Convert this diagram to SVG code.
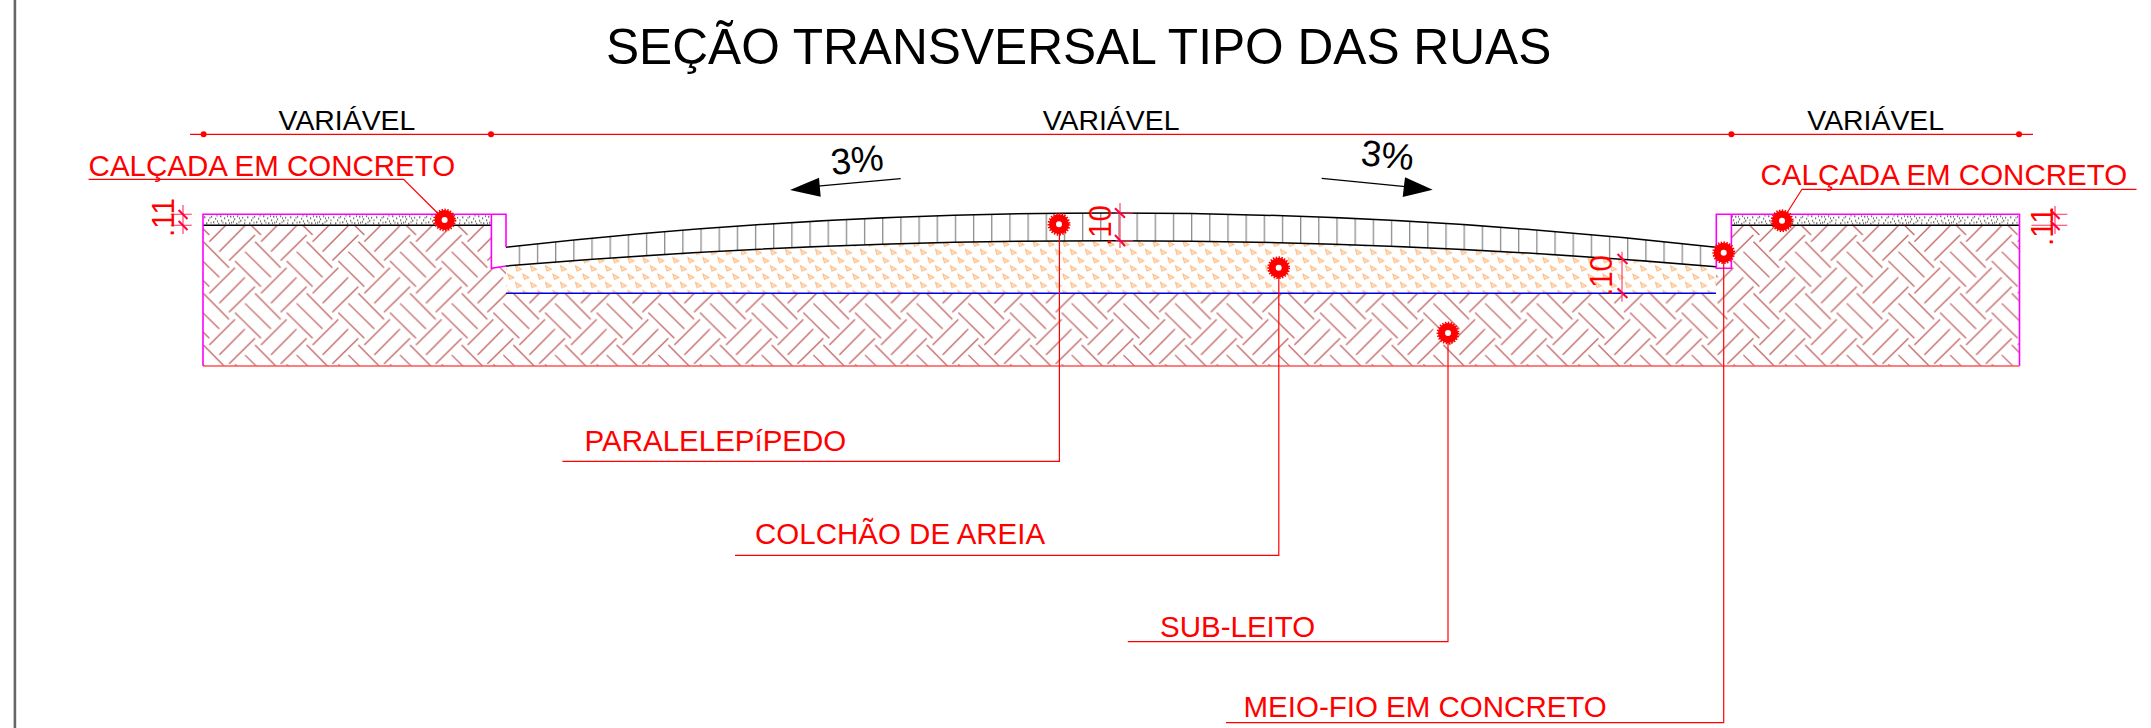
<svg xmlns="http://www.w3.org/2000/svg" width="2151" height="728" viewBox="0 0 2151 728">
<style>
text{font-family:"Liberation Sans",Arial,sans-serif}
.blk{fill:#000}
.red{fill:#ff0000}
.t29{font-size:29.5px}
.t28{font-size:28.4px}
.t35{font-size:36.5px}
.tdim{font-size:31px}
.ldr{fill:none;stroke:#ff0000;stroke-width:1.2}
.dim{fill:none;stroke:#ff3355;stroke-width:1.1}
.tick{fill:none;stroke:#ff0044;stroke-width:2}
.mag{fill:none;stroke:#ff00ff;stroke-width:1.6}
.ink{fill:none;stroke:#000;stroke-width:1.5}
</style>
<defs>
<pattern id="herr" patternUnits="userSpaceOnUse" x="190" y="225" width="51.67" height="51.67">
<path fill="none" stroke="#c46868" stroke-width="1.35" d="M45 36l26 25.7M-6.67 36l26 25.7M45 -15.67l26 25.7M-6.67 -15.67l26 25.7M3.33 26.7l26 25.6M3.33 -24.97l26 25.6M13.33 16.7l25.7 26M19.3 16.63l25.7 -25.6M19.3 68.3l25.7 -25.6M29.3 26.63l25.7 -26M-22.37 26.63l25.7 -26M39 35.63l26 -25.6M-12.67 35.63l26 -25.6"/>
</pattern>
<pattern id="sand" patternUnits="userSpaceOnUse" x="506" y="240" width="15" height="16.5">
<g fill="#fee4cc" stroke="#fcbe88" stroke-width="1.1">
<path d="M2 1.2l1.5 5.2l4.4 -1.8z"/>
<path d="M9.5 9.4l1.5 5.2l4.4 -1.8z"/>
<path d="M-5.5 9.4l1.5 5.2l4.4 -1.8z"/>
</g>
</pattern>
<pattern id="pav" patternUnits="userSpaceOnUse" x="518.7" y="200" width="18.17" height="80">
<rect x="0" y="0" width="1.3" height="80" fill="#8c8c8c"/>
</pattern>
<pattern id="conc" patternUnits="userSpaceOnUse" x="203" y="214.3" width="43" height="11">
<path fill="none" stroke="#4a4a4a" stroke-width="1.3" d="M1 3h1.4M5 6h1.2M3 9h1.4M8 2.5h1.2M10 8h1.4M12 4.5h1.2M15 9.5h1.2M17 2h1.4M18 6.5h1.2M21 4h1.2M22 9h1.4M25 6h1.2M27 2.5h1.4M28 8.5h1.2M31 5h1.2M33 9.5h1.4M34 2h1.2M37 6.5h1.4M39 3.5h1.2M41 9h1.2M6.5 3.5h1M14 7h1M24 2h1M30 7.5h1M36 4h1M41.5 6h1M7.5 8.5h1M19.5 8.5h1M26 9h1M35.5 8h1M13.5 1.5h1M30 2.5h1"/>
</pattern>
<g id="dot">
<circle r="10" fill="#ff0000"/>
<circle r="10.2" fill="none" stroke="#ff0000" stroke-width="2.4" stroke-dasharray="1.4 1.4"/>
<circle r="3" fill="#fff"/>
</g>
</defs>
<rect width="2151" height="728" fill="#fff"/>
<rect id="border" x="13.6" y="0" width="2.6" height="728" fill="#666"/>
<text id="title" class="blk" x="606" y="64" font-size="49.65">SEÇÃO TRANSVERSAL TIPO DAS RUAS</text>

<g id="section">
<path id="subgrade-fill" fill="url(#herr)" d="M203 225.3H491.4V268.3L506 266V293.3H1716V268.3H1731.4V225.3H2019.5V366H203Z"/>
<path id="sand-fill" fill="url(#sand)" d="M506 266Q808.5 240.7 1111 240.7Q1413.5 240.7 1716 266.7V293.3H506Z"/>
<path id="paver-fill" fill="url(#pav)" d="M506 247.3Q808.5 213 1111 213Q1413.5 213 1716 247.3V266.7Q1413.5 240.7 1111 240.7Q808.5 240.7 506 266Z"/>
<rect id="concrete-left" x="203" y="214.3" width="288.4" height="11" fill="url(#conc)"/>
<rect id="concrete-right" x="1731.4" y="214.3" width="288.1" height="11" fill="url(#conc)"/>
<path class="ink" d="M203 225.3H491.4M1731.4 225.3H2019.5"/>
<path class="ink" d="M506 247.3Q808.5 213 1111 213Q1413.5 213 1716 247.3"/>
<path class="ink" d="M506 266Q808.5 240.7 1111 240.7Q1413.5 240.7 1716 266.7"/>
<path fill="none" stroke="#0000e0" stroke-width="1.4" d="M506 293.3H1716"/>
<path class="mag" d="M203 366V214.3H506V247.3M491.4 214.3V268.3L506 266"/>
<path class="mag" d="M2019.5 366V214.3H1716.3V268.3H1731.4V214.3"/>
<path fill="none" stroke="#ff5555" stroke-width="1.6" d="M203 366H2019.5"/>
</g>

<g id="connectors">
<path class="ldr" d="M190 134.3H2033"/>
<path class="ldr" d="M88.6 179.3H403.6L444.6 220"/>
<path class="ldr" d="M2136.5 189.3H1802L1782 220.7"/>
<path class="ldr" d="M1059.4 224.3V461.3H562.4"/>
<path class="ldr" d="M1278.8 267.7V555.3H735"/>
<path class="ldr" d="M1448 333V641.7H1127.8"/>
<path class="ldr" d="M1723.7 252.7V722.7H1226"/>
<path fill="none" stroke="#000" stroke-width="1.2" d="M900.7 178.7L815 186.4M1321.7 178.3L1408 186.8"/>
<path class="blk" d="M790 190L819 177.7L820.7 196.7Z"/>
<path class="blk" d="M1432.7 189.7L1405 177.3L1402.7 197Z"/>
</g>

<g id="dims">
<circle cx="203.6" cy="134.3" r="3" fill="#ff0000"/>
<circle cx="491" cy="134.3" r="3" fill="#ff0000"/>
<circle cx="1731.4" cy="134.3" r="3" fill="#ff0000"/>
<circle cx="2019" cy="134.3" r="3" fill="#ff0000"/>
<path class="dim" d="M1120 203V248M1115.7 213H1133M1115.7 240.7H1133"/>
<path class="tick" d="M1115 208.3L1125 217.7M1115 235L1125 246"/>
<path class="dim" d="M1622 251.7V301.7"/>
<path class="tick" d="M1617.6 254L1627.4 264M1617.6 288.3L1627.4 298"/>
<path class="dim" d="M183 205V234M170.7 214.3H191.8M170.7 225.3H191.8"/>
<path class="tick" d="M178.6 210L187.5 219M178.6 221L187.5 230"/>
<path class="dim" d="M2055 206V234M2031.5 214.3H2067.3M2031.5 225.3H2067.3"/>
<path class="tick" d="M2050.5 210L2059.6 219M2050.5 221L2059.6 230"/>
<text class="red tdim" transform="translate(1111 246) rotate(-90)" textLength="41" lengthAdjust="spacingAndGlyphs">.10</text>
<text class="red tdim" transform="translate(1612 296) rotate(-90)" textLength="41" lengthAdjust="spacingAndGlyphs">.10</text>
<text class="red tdim" transform="translate(174 237) rotate(-90)" textLength="39" lengthAdjust="spacingAndGlyphs">.11</text>
<text class="red tdim" transform="translate(2053 246) rotate(-90)" textLength="39" lengthAdjust="spacingAndGlyphs">.11</text>
</g>

<g id="width-labels">
<text class="blk t28" x="278.6" y="130">VARIÁVEL</text>
<text class="blk t28" x="1042.7" y="130">VARIÁVEL</text>
<text class="blk t28" x="1807.3" y="130">VARIÁVEL</text>
</g>
<g id="slope-left"><text class="blk t35" transform="translate(832 175) rotate(-5.8)">3%</text></g>
<g id="slope-right"><text class="blk t35" transform="translate(1360 165) rotate(5.8)">3%</text></g>

<g id="node-calcada-left"><use href="#dot" x="444.6" y="220"/><text class="red t29" x="88.6" y="176">CALÇADA EM CONCRETO</text></g>
<g id="node-calcada-right"><use href="#dot" x="1782" y="220.7"/><text class="red t29" x="1760.5" y="185">CALÇADA EM CONCRETO</text></g>
<g id="node-paralelepipedo"><use href="#dot" x="1059" y="224.3"/><text class="red t29" x="584.5" y="450.7">PARALELEPíPEDO</text></g>
<g id="node-colchao"><use href="#dot" x="1278.7" y="267.7"/><text class="red t29" x="755" y="544.3">COLCHÃO DE AREIA</text></g>
<g id="node-subleito"><use href="#dot" x="1448" y="333"/><text class="red t29" x="1160" y="637.3">SUB-LEITO</text></g>
<g id="node-meiofio"><use href="#dot" x="1723.7" y="252.7"/><text class="red t29" x="1243.5" y="716.7">MEIO-FIO EM CONCRETO</text></g>
</svg>
